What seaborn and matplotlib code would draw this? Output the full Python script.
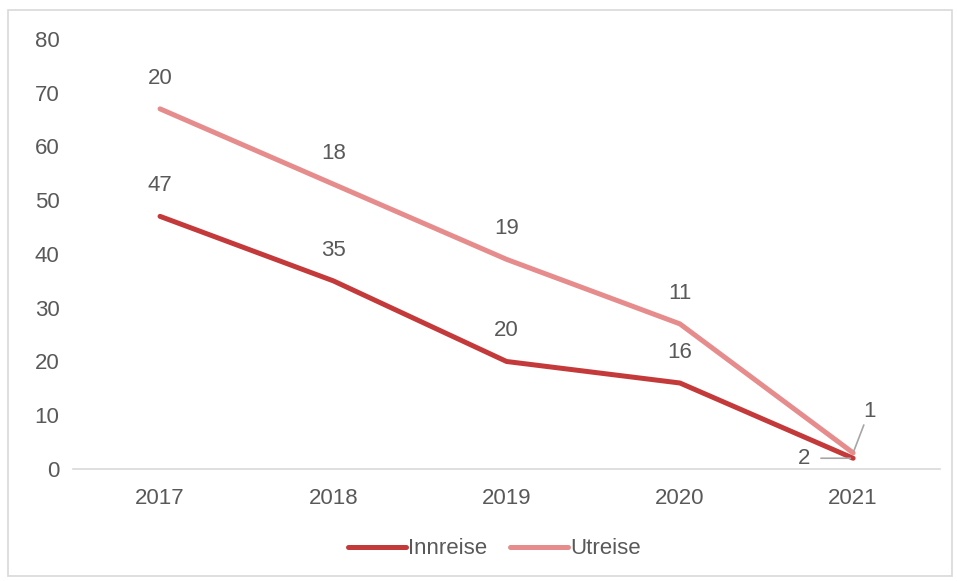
import pandas as pd
import matplotlib.pyplot as plt
import seaborn as sns
from matplotlib.patches import Rectangle

years = ["2017", "2018", "2019", "2020", "2021"]
innreise = [47, 35, 20, 16, 2]
utreise = [20, 18, 19, 11, 1]
series = ["Innreise", "Utreise"]
colors = {"Innreise": "#C43A3A", "Utreise": "#E68C8C"}

# stacked line chart: Utreise drawn on top of Innreise
stacked = [a + b for a, b in zip(innreise, utreise)]
df = pd.DataFrame({
    "year": years * 2,
    "value": innreise + stacked,
    "label": innreise + utreise,
    "serie": ["Innreise"] * 5 + ["Utreise"] * 5,
})

sns.set_style("white")
plt.rcParams['font.family'] = ['Liberation Sans', 'DejaVu Sans']
txt = '#595959'
fs = 16

fig = plt.figure(figsize=(9.57, 5.81), dpi=100)
ax = fig.add_axes([0.0767, 0.1928, 0.9053, 0.7401])
sns.lineplot(data=df, x="year", y="value", hue="serie", palette=colors,
             linewidth=3.6, ax=ax, sort=False, solid_capstyle='round')

ax.set_ylim(0, 80)
ax.set_xlim(-0.5, 4.5)
ax.set_yticks(range(0, 81, 10))
for s in ["top", "right", "left"]:
    ax.spines[s].set_visible(False)
ax.spines["bottom"].set_color('#D9D9D9')
ax.spines["bottom"].set_linewidth(1.2)
ax.tick_params(axis='both', length=0, labelsize=fs, colors=txt)
ax.tick_params(axis='x', pad=14)
ax.tick_params(axis='y', pad=10)
ax.set_xlabel('')
ax.set_ylabel('')

# value labels
for s in series:
    sub = df[df.serie == s]
    for i, (v, lab) in enumerate(zip(sub["value"], sub["label"])):
        if i == 4:
            continue
        ax.annotate(str(lab), (i, v), xytext=(0, 22), textcoords='offset points',
                    ha='center', va='center', fontsize=fs, color=txt)

# last point labels with leader lines
ax.annotate(str(innreise[4]), (4, innreise[4]), xytext=(-35, 0), textcoords='offset points',
            ha='center', va='center', fontsize=fs, color=txt,
            arrowprops=dict(arrowstyle='-', color='#A6A6A6', lw=1.2, shrinkA=5, shrinkB=2))
ax.annotate(str(utreise[4]), (4, stacked[4]), xytext=(11.5, 30), textcoords='offset points',
            ha='center', va='center', fontsize=fs, color=txt,
            arrowprops=dict(arrowstyle='-', color='#A6A6A6', lw=1.2, shrinkA=0, shrinkB=1))

leg = ax.legend(loc='center', bbox_to_anchor=(0.486, -0.186), ncol=2, frameon=False,
                fontsize=fs, handlelength=2.6, handletextpad=0.1, columnspacing=1.05)
for t in leg.get_texts():
    t.set_color(txt)

fig.patches.append(Rectangle((8 / 957, 5 / 581), 944 / 957, 566 / 581, transform=fig.transFigure,
                             fill=False, edgecolor='#D9D9D9', linewidth=1.2))

fig.savefig("out.png", dpi=100)
